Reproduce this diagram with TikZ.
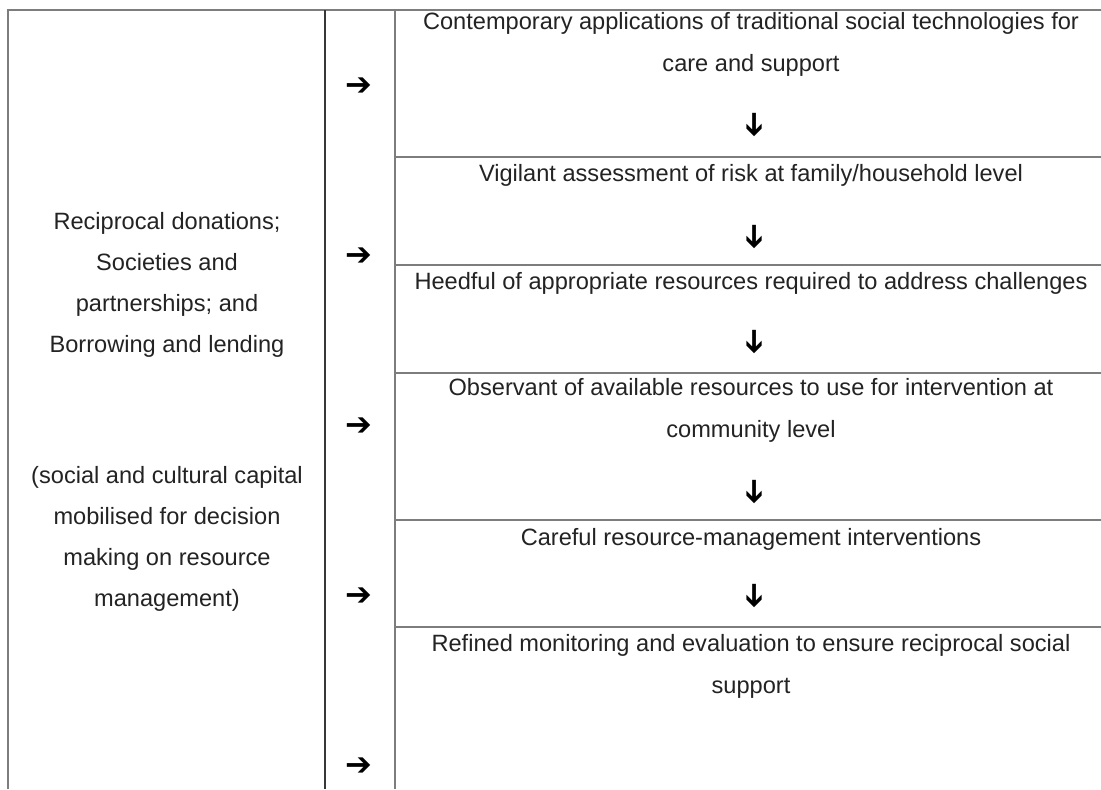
\documentclass[tikz,border=0pt]{standalone}
\usepackage{fontspec}
\setmainfont{Liberation Sans}
\newfontfamily\glyphfont{DejaVu Sans}
\usepackage{tikz}
\usetikzlibrary{positioning}
\definecolor{tabrule}{RGB}{125,125,125}
\definecolor{tabdark}{RGB}{55,55,55}
\definecolor{tabtext}{RGB}{35,35,35}
\tikzset{
  trule/.style={draw=tabrule,line width=1.1pt},
  tdark/.style={draw=tabdark,line width=1pt},
  tcell/.style={align=center,inner sep=0pt,anchor=north,text=tabtext,
                font=\fontsize{11.8}{20.5}\selectfont},
  rcell/.style={tcell,font=\fontsize{11.8}{21.2}\selectfont},
  tarrow/.style={inner sep=0pt,text=black,font=\glyphfont\bfseries\fontsize{16}{16}\selectfont},
  tdown/.style={tarrow,rotate=-90},
}

\begin{document}
\begin{tikzpicture}[x=0.5pt,y=-0.5pt]
    \useasboundingbox[fill=white] (0,0) rectangle (1101,789);
    % frame and column rules
    \draw[trule] (8,789) -- (8,10) -- (1101,10);
    \draw[tdark] (325,10) -- (325,789);
    \draw[trule] (395,10) -- (395,789);
    \foreach \y in {157,265,373,520,627}
      \draw[trule] (395,\y) -- (1101,\y);
    % capital column
    \node[tcell] (capital) at (167,212) {Reciprocal donations;\\Societies and\\partnerships; and\\Borrowing and lending\\[45pt](social and cultural capital\\mobilised for decision\\making on resource\\management)};
    % process steps
    \node[rcell] (step1) at (751,12) {Contemporary applications of traditional social technologies for\\care and support};
    \node[rcell] (step2) at (751,164) {Vigilant assessment of risk at family/household level};
    \node[rcell] (step3) at (751,272) {Heedful of appropriate resources required to address challenges};
    \node[rcell] (step4) at (751,378) {Observant of available resources to use for intervention at\\community level};
    \node[rcell] (step5) at (751,528) {Careful resource-management interventions};
    \node[rcell] (step6) at (751,634) {Refined monitoring and evaluation to ensure reciprocal social\\support};
    % arrows
    \foreach \y [count=\i] in {87,257,427,597,767}
      \node[tarrow] (feed\i) at (359,\y) {➔};
    \foreach \y [count=\i] in {125,237,342,492,596}
      \node[tdown] (next\i) at (753,\y) {➔};
\end{tikzpicture}
\end{document}
